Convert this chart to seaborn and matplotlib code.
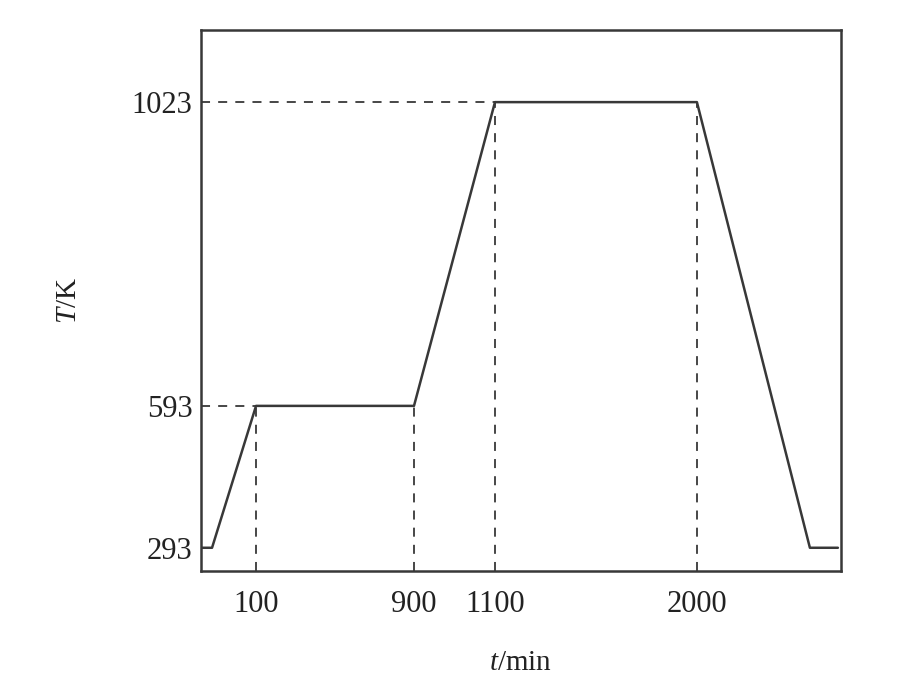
import numpy as np
import pandas as pd
import matplotlib
matplotlib.use("Agg")
import matplotlib.pyplot as plt
import seaborn as sns

# heating schedule (schematic axis, not to scale)
time_min = [-30, 0, 100, 900, 1100, 2000, 2500, 2600]
temp_k = [293, 293, 593, 593, 1023, 1023, 293, 293]

x_ticks = [100, 900, 1100, 2000, 2500]
x_tick_labels = ["100", "900", "1100", "2000", ""]
y_ticks = [293, 593, 1023]
y_tick_labels = ["293", "593", "1023"]

# points that get dashed guide lines
guide_t = [100, 900, 1100, 2000]
guide_T = [593, 593, 1023, 1023]
hguide_t = [100, 1100]
hguide_T = [593, 1023]

# piecewise mapping used by the drawing (the original axis is not linear)
x_knots = [-30, 0, 100, 900, 1100, 2000, 2500, 2600, 2620]
x_pos = [0, 11, 55, 213, 294, 496, 609, 637, 640]
y_knots = [250, 293, 593, 1023, 1130]
y_pos = [0, 23, 165, 469, 541]


def fwd_x(v):
    return np.interp(v, x_knots, x_pos)


def inv_x(v):
    return np.interp(v, x_pos, x_knots)


def fwd_y(v):
    return np.interp(v, y_knots, y_pos)


def inv_y(v):
    return np.interp(v, y_pos, y_knots)


df = pd.DataFrame({"t": time_min, "T": temp_k})

sns.set_style("white")
plt.rcParams["font.family"] = ["Liberation Serif", "DejaVu Serif"]
plt.rcParams["mathtext.fontset"] = "custom"
plt.rcParams["mathtext.rm"] = "Liberation Serif"
plt.rcParams["mathtext.it"] = "Liberation Serif:italic"

fig = plt.figure(figsize=(9.18, 6.86), dpi=100)
ax = fig.add_axes([0.219, 0.168, 0.697, 0.788])
ax.set_xscale("function", functions=(fwd_x, inv_x))
ax.set_yscale("function", functions=(fwd_y, inv_y))

line_col = "#383838"
sns.lineplot(data=df, x="t", y="T", sort=False, color=line_col, linewidth=1.8, ax=ax)

for t, T in zip(guide_t, guide_T):
    ax.plot([t, t], [250, T], color=line_col, linestyle=(0, (5, 4.5)), linewidth=1.3)
for t, T in zip(hguide_t, hguide_T):
    ax.plot([-30, t], [T, T], color=line_col, linestyle=(0, (5, 4.5)), linewidth=1.3)

ax.set_xlim(-30, 2620)
ax.set_ylim(250, 1130)

ax.set_xticks(x_ticks)
ax.set_xticklabels(x_tick_labels)
ax.set_yticks(y_ticks)
ax.set_yticklabels(y_tick_labels)
ax.minorticks_off()
ax.tick_params(axis="both", direction="in", length=6, width=1.4, color=line_col,
               labelsize=22, labelcolor="#222222")
ax.tick_params(axis="x", pad=14)
ax.tick_params(axis="y", pad=6)

for s in ax.spines.values():
    s.set_color(line_col)
    s.set_linewidth(1.8)

ax.set_xlabel("$t$/min", fontsize=21, color="#222222", labelpad=22)
ax.set_ylabel("$T$/K", fontsize=21, color="#222222", labelpad=36)

fig.savefig("out.png", dpi=100)
